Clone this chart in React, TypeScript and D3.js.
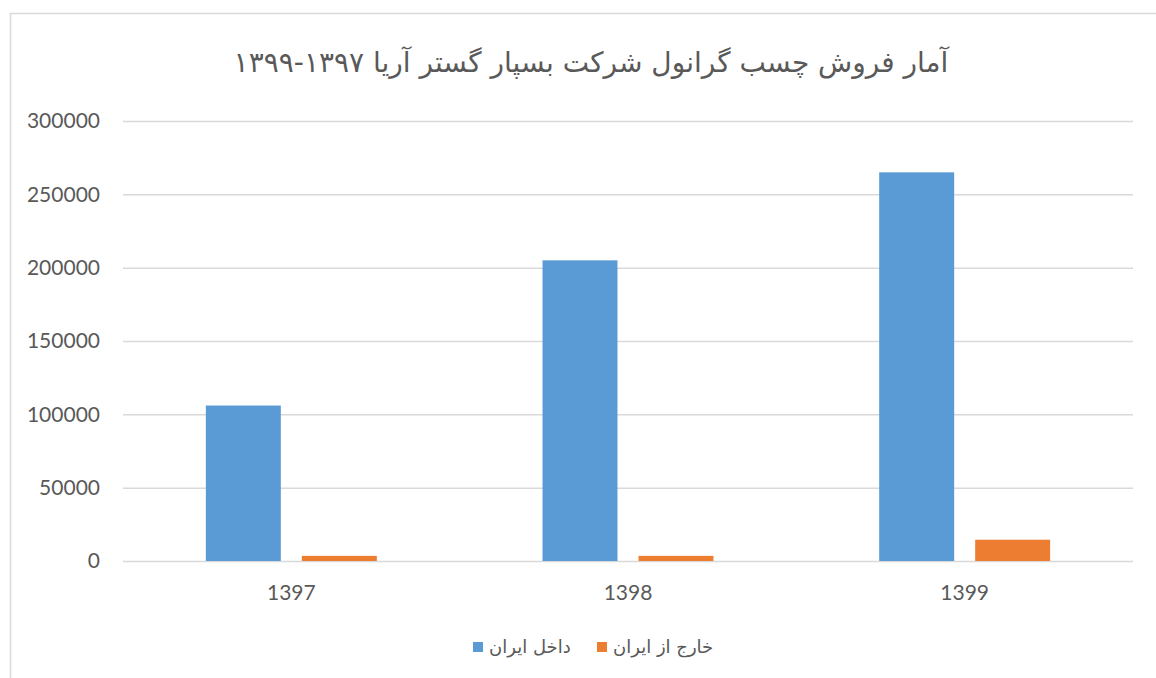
import React, { useEffect, useRef } from 'react';
import * as d3 from 'd3';

const years = ['1397', '1398', '1399'];
const inside = [106000, 205000, 265000];
const outside = [3500, 3500, 14500];
const seriesNames = ['داخل ایران', 'خارج از ایران'];
const yTicks = [0, 50000, 100000, 150000, 200000, 250000, 300000];
const title = 'آمار فروش چسب گرانول شرکت بسپار گستر آریا ١٣٩٧-١٣٩٩';

const colors = ['#5B9BD5', '#ED7D31'];

export default function App() {
  const chartRef = useRef(null);

  useEffect(() => {
    document.body.style.margin = '0';
    const svg = d3.select(chartRef.current);
    svg.selectAll('*').remove();

    const margin = { top: 121, right: 23, bottom: 117, left: 123 };
    const width = 1156;
    const height = 678;

    // frame
    svg.append('rect')
      .attr('x', 10.5).attr('y', 13.5)
      .attr('width', 1160).attr('height', 700)
      .attr('fill', '#fff')
      .attr('stroke', '#d9d9d9')
      .attr('stroke-width', 1.5);

    const x = d3.scaleBand()
      .domain(years)
      .range([margin.left, width - margin.right])
      .paddingInner(0)
      .paddingOuter(0);

    // two bars per year, 75px wide with a ~21px gap
    const x1 = d3.scaleBand()
      .domain(['0', '1'])
      .range([0, x.bandwidth()])
      .paddingInner(0.219)
      .paddingOuter(0.863);

    const y = d3.scaleLinear()
      .domain([0, 300000])
      .range([height - margin.bottom, margin.top]);

    // gridlines
    svg.append('g')
      .selectAll('line')
      .data(yTicks)
      .join('line')
      .attr('x1', margin.left)
      .attr('x2', width - margin.right)
      .attr('y1', d => y(d) + 0.5)
      .attr('y2', d => y(d) + 0.5)
      .attr('stroke', '#d9d9d9')
      .attr('stroke-width', 1.5);

    // y labels
    svg.append('g')
      .selectAll('text')
      .data(yTicks)
      .join('text')
      .attr('x', 100)
      .attr('y', d => y(d))
      .attr('dy', '0.35em')
      .attr('text-anchor', 'end')
      .attr('font-family', 'Lato, sans-serif')
      .attr('font-size', 21)
      .attr('fill', '#595959')
      .text(d => d);

    // x labels
    svg.append('g')
      .selectAll('text')
      .data(years)
      .join('text')
      .attr('x', d => x(d) + x.bandwidth() / 2)
      .attr('y', height - margin.bottom + 32)
      .attr('dy', '0.35em')
      .attr('text-anchor', 'middle')
      .attr('font-family', 'Lato, sans-serif')
      .attr('font-size', 21)
      .attr('fill', '#595959')
      .text(d => d);

    // bars
    const series = [inside, outside];
    series.forEach((vals, si) => {
      svg.append('g')
        .selectAll('rect')
        .data(years)
        .join('rect')
        .attr('x', d => x(d) + x1(String(si)))
        .attr('width', x1.bandwidth())
        .attr('y', (d, i) => y(vals[i]))
        .attr('height', (d, i) => y(0) - y(vals[i]))
        .attr('fill', colors[si]);
    });

    // title
    svg.append('text')
      .attr('x', 591)
      .attr('y', 62)
      .attr('dy', '0.35em')
      .attr('text-anchor', 'middle')
      .attr('direction', 'rtl')
      .attr('font-family', '"DejaVu Sans", sans-serif')
      .attr('font-size', 28)
      .attr('fill', '#595959')
      .text(title);

    // legend
    const legendItems = [
      { name: seriesNames[0], color: colors[0], x: 473 },
      { name: seriesNames[1], color: colors[1], x: 597 },
    ];
    const lg = svg.append('g');
    legendItems.forEach(item => {
      lg.append('rect')
        .attr('x', item.x)
        .attr('y', 642)
        .attr('width', 10)
        .attr('height', 10)
        .attr('fill', item.color);
      lg.append('text')
        .attr('x', item.x + 16)
        .attr('y', 647)
        .attr('dy', '0.35em')
        .attr('text-anchor', 'start')
        .attr('font-family', '"DejaVu Sans", sans-serif')
        .attr('font-size', 18)
        .attr('fill', '#595959')
        .text(item.name);
    });
  }, []);

  return (
    <svg ref={chartRef} width={1156} height={678} style={{ display: 'block' }} />
  );
}
